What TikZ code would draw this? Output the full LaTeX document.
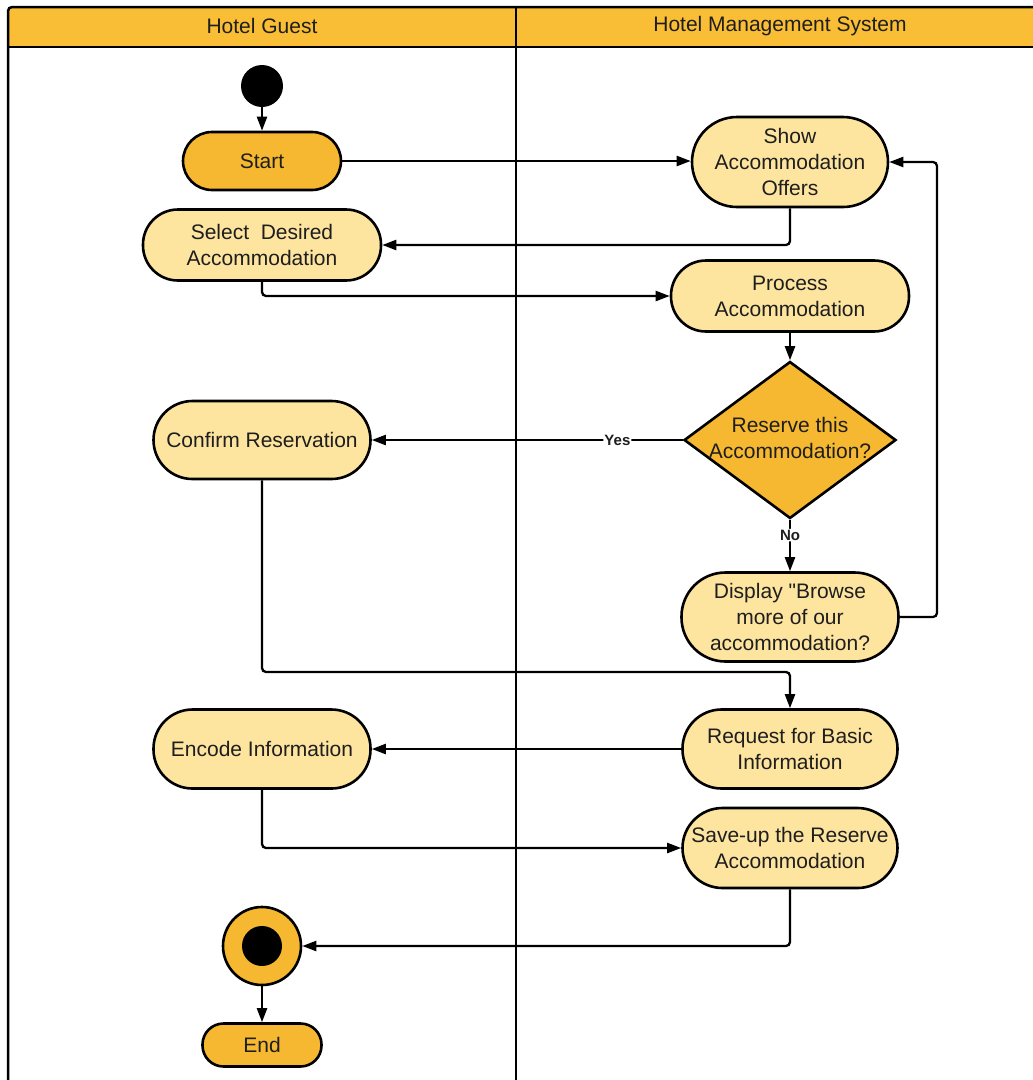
\documentclass[tikz,border=0pt]{standalone}
\usepackage{fontspec}
\setmainfont{Liberation Sans}
\newfontfamily\quotefont{Liberation Sans}[Ligatures=TeXOff]
\usetikzlibrary{arrows.meta,shapes.geometric}
\definecolor{hdr}{HTML}{F9BE35}
\definecolor{darkfill}{HTML}{F6B830}
\definecolor{lightfill}{HTML}{FDE49F}
\definecolor{txt}{HTML}{1E1E1E}
\begin{document}
\begin{tikzpicture}[x=1pt,y=-1pt,
  font=\fontsize{21}{26}\selectfont,
  act/.style={draw=black, line width=2.6pt, fill=lightfill, align=center, inner sep=2pt, text=txt},
  flow/.style={draw=black, line width=2.3pt, -{Triangle[length=14pt,width=10pt]}, rounded corners=4pt},
  lbl/.style={font=\bfseries\fontsize{15}{15}\selectfont, fill=white, inner sep=1pt, text=txt},
  hdrtxt/.style={text=txt}
]
\useasboundingbox (0,0) rectangle (1033,1080);
\clip (0,0) rectangle (1033,1080);
% swimlane frame
\fill[hdr, rounded corners=4pt] (8,7) rectangle (1045,47);
\draw[line width=2.5pt, rounded corners=4pt] (8,7) rectangle (1045,1090);
\draw[line width=2.5pt] (8,47) -- (1045,47);
\draw[line width=2.5pt] (516,7) -- (516,1090);
\node[hdrtxt] (h1) at (262,26) {Hotel Guest};
\node[hdrtxt] (h2) at (780,26) {Hotel Management System};

% left lane
\node[circle, fill=black, minimum size=42pt, inner sep=0pt] (init) at (262,86) {};
\node[act, fill=darkfill, minimum width=158pt, minimum height=58pt, rounded corners=29pt] (start) at (262,161) {Start};
\node[act, minimum width=238pt, minimum height=71pt, rounded corners=35pt] (select) at (262,245) {Select\ \ Desired\\Accommodation};
\node[act, minimum width=217pt, minimum height=78pt, rounded corners=39pt] (confirm) at (262,440) {Confirm Reservation};
\node[act, minimum width=217pt, minimum height=79pt, rounded corners=39pt] (encode) at (262,749) {Encode Information};
\node[circle, draw=black, line width=2.6pt, fill=darkfill, minimum size=78pt, inner sep=0pt] (final) at (262,946) {};
\node[circle, fill=black, minimum size=40pt, inner sep=0pt] (finalin) at (final) {};
\node[act, fill=darkfill, minimum width=119pt, minimum height=43pt, rounded corners=21pt] (end) at (262,1045) {End};

% right lane
\node[act, minimum width=196pt, minimum height=90pt, rounded corners=45pt] (show) at (790,162) {Show\\Accommodation\\Offers};
\node[act, minimum width=238pt, minimum height=71pt, rounded corners=35pt] (process) at (790,296) {Process\\Accommodation};
\node[diamond, draw=black, line width=2.6pt, fill=darkfill, minimum width=212pt, minimum height=157pt, inner sep=0pt] (dec) at (790,440) {};
\node[align=center, text=txt] (dectxt) at (790,438) {Reserve this\\Accommodation?};
\node[act, minimum width=217pt, minimum height=89pt, rounded corners=44pt] (display) at (790,617) {Display {\quotefont"}Browse\\more of our\\accommodation?};
\node[act, minimum width=215pt, minimum height=79pt, rounded corners=39pt] (request) at (790,749) {Request for Basic\\Information};
\node[act, minimum width=215pt, minimum height=80pt, rounded corners=40pt] (save) at (790,848) {Save-up the Reserve\\Accommodation};

\coordinate (loopx) at (937,617);
\coordinate (confy) at (262,672);

% connectors
\draw[flow] (init) -- (start);
\draw[flow] (start.east) -- (start.east -| show.west);
\draw[flow] (show.south) |- (select.east);
\draw[flow] (select.south) |- (process.west);
\draw[flow] (process) -- (dec);
\draw[flow] (dec.west) -- node[lbl, pos=0.21] (yes) {Yes} (confirm.east);
\draw[flow] (dec.south) -- node[lbl, pos=0.3] (no) {No} (display.north);
\draw[flow] (display.east) -- (loopx) |- (show.east);
\draw[flow] (confirm.south) -- (confy) -| (request.north);
\draw[flow] (request.west) -- (encode.east);
\draw[flow] (encode.south) |- (save.west);
\draw[flow] (save.south) |- (final.east);
\draw[flow] (final) -- (end);
\end{tikzpicture}
\end{document}
